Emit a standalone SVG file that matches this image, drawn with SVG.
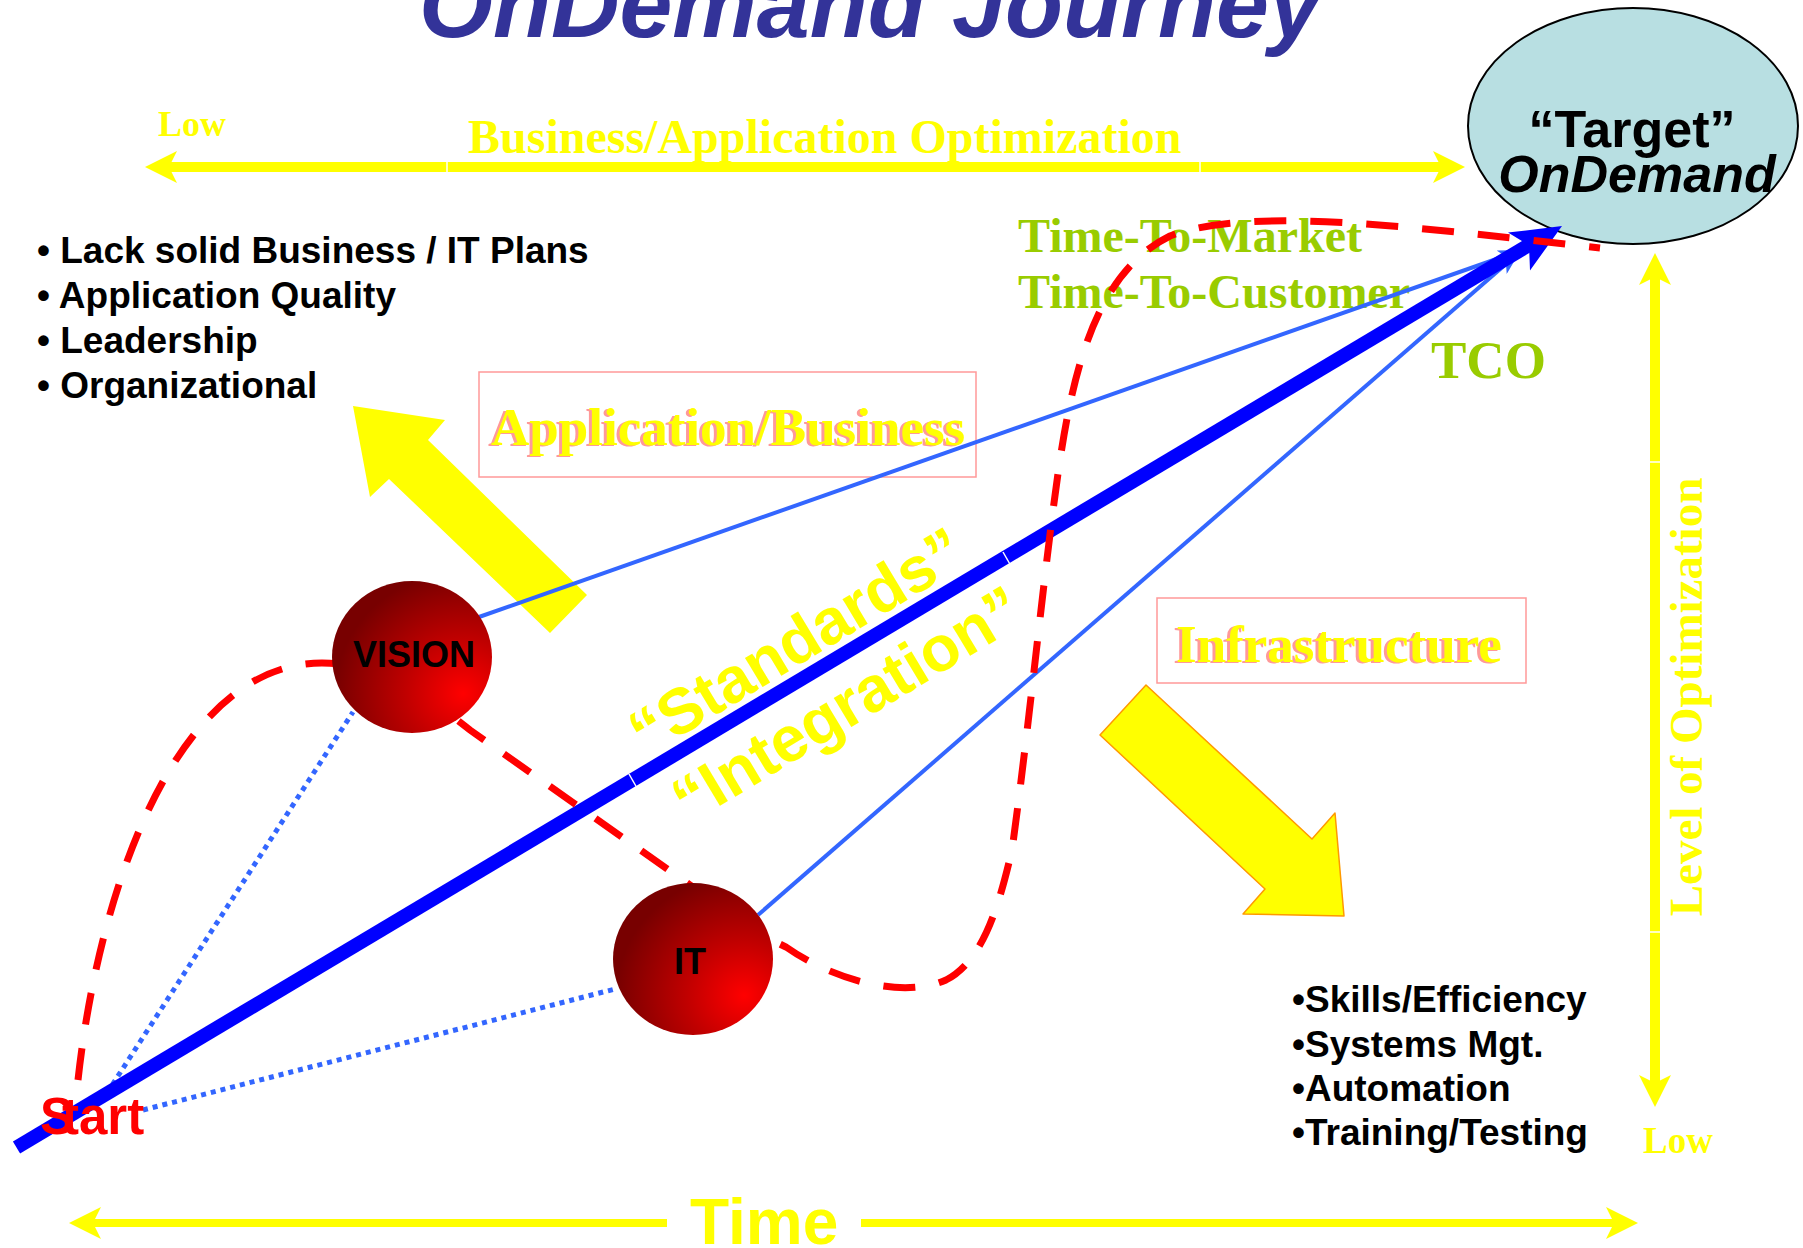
<svg xmlns="http://www.w3.org/2000/svg" width="1803" height="1248" viewBox="0 0 1803 1248">
<style>
.sans{font-family:"Liberation Sans",Arial,sans-serif;font-weight:bold}
.serif{font-family:"Liberation Serif","Times New Roman",serif;font-weight:bold}
.yl{fill:#FFFF00}
.green{fill:#99CC00}
.pinkbox{fill:none;stroke:#FF9999;stroke-width:1.5}
.shadow{fill:#FF9999}
.axis{stroke:#FFFF00;fill:none}
.thin{stroke:#3366FF;stroke-width:4;fill:none}
.dotted{stroke:#3366FF;stroke-width:5;fill:none;stroke-dasharray:5 5}
.dash{stroke:#FF0000;stroke-width:7;fill:none;stroke-dasharray:32 24}
.list{font-size:37px;fill:#000}
</style>
<defs>
<marker id="yhead" viewBox="0 0 32 32" refX="8" refY="16" markerWidth="32" markerHeight="32" markerUnits="userSpaceOnUse" orient="auto-start-reverse">
<path d="M0,0 L32,16 L0,32 L8,16 Z" fill="#FFFF00"/>
</marker>
<marker id="bhead" viewBox="0 0 24 16" refX="6" refY="8" markerWidth="24" markerHeight="16" markerUnits="userSpaceOnUse" orient="auto">
<path d="M0,0 L24,8 L0,16 L6,8 Z" fill="#3366FF"/>
</marker>
<radialGradient id="ball" cx="0.82" cy="0.74" r="0.8" fx="0.82" fy="0.74">
<stop offset="0" stop-color="#FF0000"/>
<stop offset="0.45" stop-color="#C00000"/>
<stop offset="1" stop-color="#780000"/>
</radialGradient>
</defs>
<rect width="1803" height="1248" fill="#FFFFFF"/>

<g id="title">
<text x="419" y="37" class="sans" font-style="italic" font-size="95" fill="#333399">OnDemand Journey</text>
</g>

<g id="axis-business">
<line x1="169" y1="167" x2="1441" y2="167" class="axis" stroke-width="10" marker-start="url(#yhead)" marker-end="url(#yhead)"/>
<line x1="447" y1="161" x2="447" y2="173" stroke="#FFFFFF" stroke-width="1.5"/>
<line x1="1200" y1="161" x2="1200" y2="173" stroke="#FFFFFF" stroke-width="1.5"/>
<text x="158" y="136" class="serif yl" font-size="36">Low</text>
<text x="468" y="153" class="serif yl" font-size="48">Business/Application Optimization</text>
</g>

<g id="axis-level">
<line x1="1655" y1="277" x2="1655" y2="1083" class="axis" stroke-width="10" marker-start="url(#yhead)" marker-end="url(#yhead)"/>
<line x1="1649" y1="462" x2="1661" y2="462" stroke="#FFFFFF" stroke-width="1.5"/>
<line x1="1649" y1="932" x2="1661" y2="932" stroke="#FFFFFF" stroke-width="1.5"/>
<text transform="translate(1702,697) rotate(-90)" text-anchor="middle" class="serif yl" font-size="47">Level of Optimization</text>
<text x="1643" y="1153" class="serif yl" font-size="37">Low</text>
</g>

<g id="axis-time">
<line x1="93" y1="1223" x2="667" y2="1223" class="axis" stroke-width="8" marker-start="url(#yhead)"/>
<line x1="861" y1="1223" x2="1614" y2="1223" class="axis" stroke-width="8" marker-end="url(#yhead)"/>
<text x="690" y="1244" class="sans yl" font-size="64">Time</text>
</g>

<g id="metrics">
<text x="1018" y="252" class="serif green" font-size="48">Time-To-Market</text>
<text x="1018" y="308" class="serif green" font-size="48">Time-To-Customer</text>
<text x="1431" y="378" class="serif green" font-size="53">TCO</text>
</g>

<g id="box-application">
<rect x="479" y="372" width="497" height="105" class="pinkbox"/>
<text x="488" y="446" class="serif shadow" font-size="53">Application/Business</text>
<text x="491" y="445" class="serif yl" font-size="53">Application/Business</text>
</g>

<g id="box-infrastructure">
<rect x="1157" y="598" width="369" height="85" class="pinkbox"/>
<text x="1173" y="663" class="serif shadow" font-size="53">Infrastructure</text>
<text x="1176" y="662" class="serif yl" font-size="53">Infrastructure</text>
</g>

<g id="arrow-application">
<polygon points="353,406 445,420 428,440 587,595 550,633 389,479 370,497" fill="#FFFF00"/>
</g>

<g id="arrow-infrastructure">
<polygon points="1146,685 1312,839 1335,813 1344,916 1243,914 1265,889 1100,735" fill="#FFFF00" stroke="#FF9900" stroke-width="1.5" stroke-linejoin="round"/>
</g>

<g id="themes">
<text transform="translate(646,757) rotate(-31)" class="sans yl" font-size="64"><tspan x="0" y="0">“Standards”</tspan><tspan x="2" y="80">“Integration”</tspan></text>
</g>

<g id="target">
<ellipse cx="1633" cy="126" rx="165" ry="118" fill="#B8DFE2" stroke="#000000" stroke-width="2"/>
<text x="1632" y="147" text-anchor="middle" class="sans" font-size="52" fill="#000">“Target”</text>
<text x="1637" y="192" text-anchor="middle" class="sans" font-style="italic" font-size="52" fill="#000">OnDemand</text>
</g>

<g id="connectors">
<line x1="107" y1="1093" x2="353" y2="712" class="dotted"/>
<line x1="143" y1="1110" x2="615" y2="989" class="dotted"/>
<line x1="479" y1="617" x2="1505" y2="256" class="thin" marker-end="url(#bhead)"/>
<line x1="758" y1="915" x2="1506" y2="264" class="thin" marker-end="url(#bhead)"/>
<line x1="16.5" y1="1147.5" x2="1529" y2="245" stroke="#0000FF" stroke-width="14"/>
<polygon points="1562,226 1508,232.6 1529,245.4 1530,270.4" fill="#0000FF"/>
<line x1="629" y1="774" x2="637" y2="788" stroke="#FFFFFF" stroke-width="1.5"/>
<line x1="1003" y1="552" x2="1011" y2="566" stroke="#FFFFFF" stroke-width="1.5"/>
<path d="M78,1080 C100,880 180,663 322,663 C380,663 420,690 470,730 L690,885 C720,910 750,930 786,947 C830,978 900,1000 946,980 C985,960 1000,900 1012,850 C1030,720 1045,560 1060,460 C1075,360 1100,270 1170,236 C1250,205 1420,228 1600,248" class="dash"/>
</g>

<g id="vision">
<ellipse cx="412" cy="657" rx="80" ry="76" fill="url(#ball)"/>
<text x="414" y="667" text-anchor="middle" class="sans" font-size="36" fill="#000">VISION</text>
</g>

<g id="it">
<ellipse cx="693" cy="959" rx="80" ry="76" fill="url(#ball)"/>
<text x="690" y="974" text-anchor="middle" class="sans" font-size="36" fill="#000">IT</text>
</g>

<g id="start">
<text x="40" y="1134" class="sans" font-size="51" fill="#FF0000">S<tspan x="62">tart</tspan></text>
</g>

<g id="issues">
<text x="37" y="263" class="sans list">• Lack solid Business / IT Plans</text>
<text x="37" y="308" class="sans list">• Application Quality</text>
<text x="37" y="353" class="sans list">• Leadership</text>
<text x="37" y="398" class="sans list">• Organizational</text>
</g>

<g id="infra-items">
<text x="1292" y="1012" class="sans list">•Skills/Efficiency</text>
<text x="1292" y="1057" class="sans list">•Systems Mgt.</text>
<text x="1292" y="1101" class="sans list">•Automation</text>
<text x="1292" y="1145" class="sans list">•Training/Testing</text>
</g>
</svg>
